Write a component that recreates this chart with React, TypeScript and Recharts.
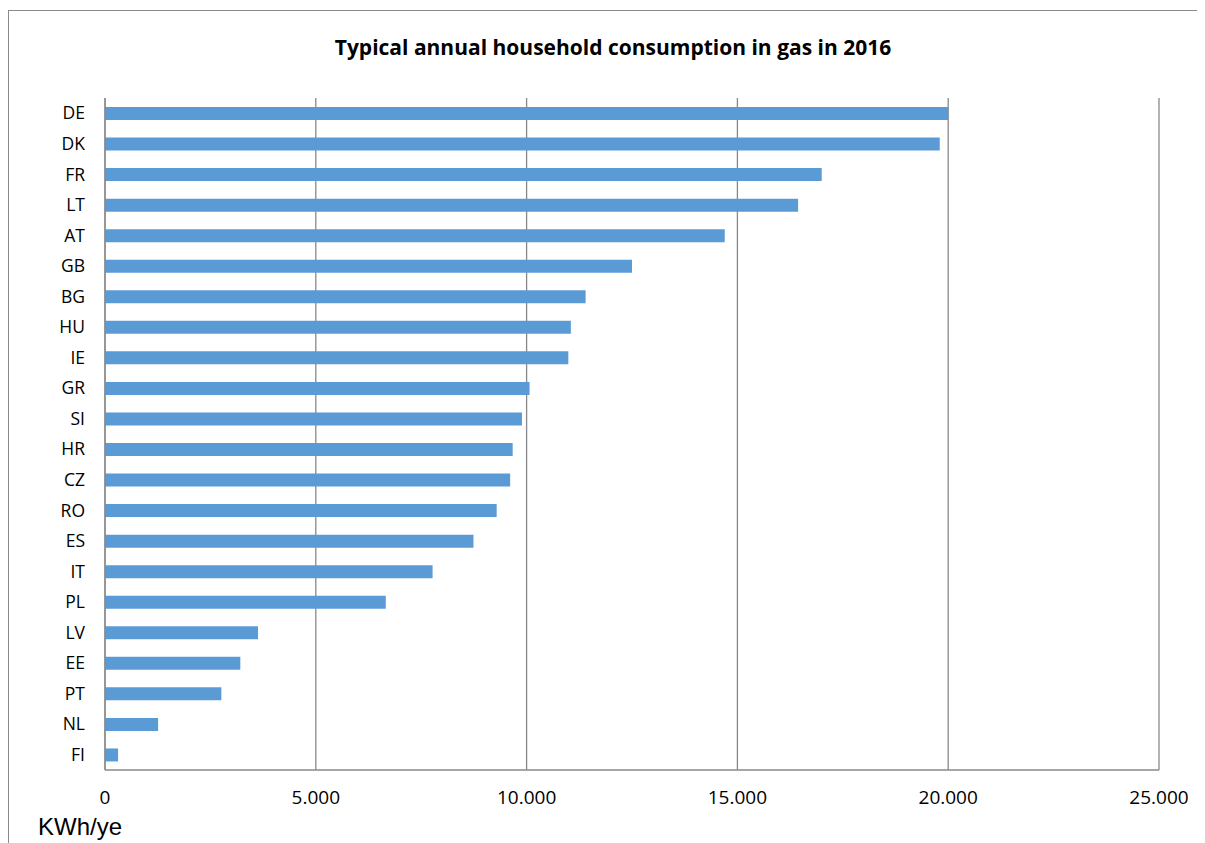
import { BarChart, Bar, XAxis, YAxis, CartesianGrid } from "recharts";

// typical annual household gas consumption, kWh/year
const countries = [
  "DE", "DK", "FR", "LT", "AT", "GB", "BG", "HU", "IE", "GR", "SI",
  "HR", "CZ", "RO", "ES", "IT", "PL", "LV", "EE", "PT", "NL", "FI",
];
const consumption = [
  20000, 19800, 17000, 16440, 14700, 12500, 11400, 11050, 10990, 10070, 9890,
  9670, 9610, 9290, 8740, 7770, 6660, 3630, 3210, 2760, 1260, 310,
];
const xTicks = [0, 5000, 10000, 15000, 20000, 25000];

const data = countries.map((c, i) => ({ country: c, value: consumption[i] }));

const GRID = "#898989";
const FONT = "'Open Sans', sans-serif";

function formatThousands(v: number): string {
  if (v === 0) return "0";
  return v.toLocaleString("en-US").replace(/,/g, ".");
}

export default function App() {
  return (
    <div
      style={{
        position: "relative",
        width: 1197,
        height: 835,
        overflow: "hidden",
        background: "#fff",
      }}
    >
      {/* outer chart frame, runs off right and bottom edge */}
      <div
        style={{
          position: "absolute",
          left: 0,
          top: 2,
          width: 1300,
          height: 1000,
          border: `1px solid ${GRID}`,
          boxSizing: "border-box",
        }}
      />
      <div
        style={{
          position: "absolute",
          left: 0,
          width: 1210,
          top: 25,
          textAlign: "center",
          fontFamily: FONT,
          fontWeight: 700,
          fontSize: 21,
          color: "#000",
        }}
      >
        Typical annual household consumption in gas in 2016
      </div>
      <div style={{ position: "absolute", left: 0, top: 0 }}>
        <BarChart
          width={1197}
          height={835}
          data={data}
          layout="vertical"
          margin={{ top: 90, right: 46, left: 0, bottom: 0 }}
        >
          <CartesianGrid horizontal={false} stroke={GRID} strokeWidth={1.3} />
          <XAxis
            type="number"
            domain={[0, 25000]}
            ticks={xTicks}
            tickFormatter={formatThousands}
            height={73}
            tickLine={false}
            tickSize={0}
            tickMargin={21}
            axisLine={{ stroke: GRID, strokeWidth: 1.3 }}
            tick={{ fontSize: 19, fill: "#000", fontFamily: FONT }}
            interval={0}
          />
          <YAxis
            type="category"
            dataKey="country"
            width={97}
            tickLine={false}
            tickSize={0}
            tickMargin={20}
            axisLine={{ stroke: GRID, strokeWidth: 1.3 }}
            tick={{ fontSize: 17.5, fill: "#000", fontFamily: FONT }}
            interval={0}
          />
          <Bar dataKey="value" fill="#5B9BD5" barSize={13} isAnimationActive={false} />
        </BarChart>
      </div>
      <div
        style={{
          position: "absolute",
          left: 30,
          top: 805,
          fontFamily: "'Liberation Sans', Arial, sans-serif",
          fontSize: 24,
          color: "#000",
        }}
      >
        KWh/ye
      </div>
    </div>
  );
}
